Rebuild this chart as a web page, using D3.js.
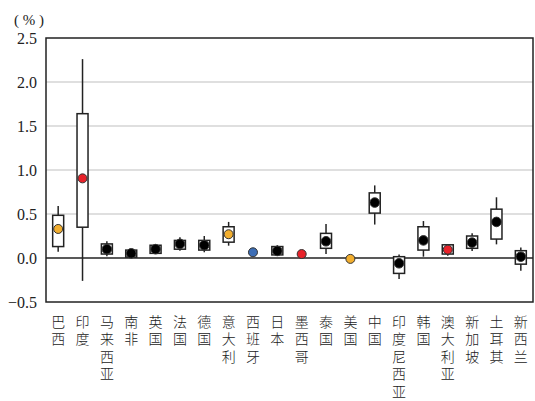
<!DOCTYPE html>
<html>
<head>
<meta charset="utf-8">
<script src="https://cdn.jsdelivr.net/npm/d3@7/dist/d3.min.js"></script>
<style>
  html, body { margin: 0; padding: 0; background: #fff; }
  svg { display: block; }
</style>
</head>
<body>
<svg id="chart" width="535" height="401"></svg>
<script>
// Countries along the x axis
const categories = ["巴西", "印度", "马来西亚", "南非", "英国", "法国", "德国", "意大利", "西班牙", "日本",
  "墨西哥", "泰国", "美国", "中国", "印度尼西亚", "韩国", "澳大利亚", "新加坡", "土耳其", "新西兰"];

// Range statistics (%) for each country; null where no range is drawn
const whiskerLow  = [0.07, -0.26, 0.02, 0.01, 0.05, 0.083, 0.065, 0.14, null, 0.03, null, 0.045, null, 0.38, -0.24, 0.015, 0.025, 0.08, 0.155, -0.145];
const boxLow      = [0.13, 0.35, 0.045, 0.01, 0.053, 0.10, 0.09, 0.18, null, 0.035, null, 0.11, null, 0.51, -0.175, 0.09, 0.045, 0.11, 0.215, -0.07];
const pointValue  = [0.33, 0.905, 0.10, 0.053, 0.10, 0.16, 0.145, 0.27, 0.065, 0.08, 0.045, 0.19, -0.01, 0.63, -0.06, 0.20, 0.095, 0.175, 0.41, 0.015];
const boxHigh     = [0.485, 1.64, 0.16, 0.09, 0.145, 0.20, 0.20, 0.355, null, 0.13, null, 0.28, null, 0.74, 0.015, 0.355, 0.15, 0.25, 0.555, 0.083];
const whiskerHigh = [0.59, 2.26, 0.19, 0.09, 0.16, 0.235, 0.25, 0.41, null, 0.145, null, 0.385, null, 0.825, 0.04, 0.42, 0.15, 0.28, 0.69, 0.12];
// Point group: 0 = standard, 1 = orange, 2 = red, 3 = blue
const pointGroup  = [1, 2, 0, 0, 0, 0, 0, 1, 3, 0, 2, 0, 1, 0, 0, 0, 2, 0, 0, 0];

const yTicks = [-0.5, 0.0, 0.5, 1.0, 1.5, 2.0, 2.5];
const gridValues = [0.5, 1.0, 1.5, 2.0];

const groupColor = d3.scaleOrdinal().domain([0, 1, 2, 3]).range(["#000000", "#F2AE2E", "#E8222A", "#3C6DB5"]);

const svg = d3.select("#chart");
const margin = { left: 46, right: 2, top: 38, bottom: 99 };
const W = 535, H = 401;

const x = d3.scaleBand().domain(categories).range([margin.left, W - margin.right]).padding(0);
const y = d3.scaleLinear().domain([-0.5, 2.5]).range([H - margin.bottom, margin.top]);

const serif = "'Liberation Serif', 'Times New Roman', serif";

// Grid lines
svg.append("g").selectAll("line").data(gridValues).join("line")
  .attr("x1", margin.left).attr("x2", W - margin.right)
  .attr("y1", d => y(d)).attr("y2", d => y(d))
  .attr("stroke", "#d4d4d4").attr("stroke-width", 1.5);

// Y axis labels (no tick marks)
const yAxis = d3.axisLeft(y).tickValues(yTicks).tickSize(0).tickPadding(9)
  .tickFormat(d => d3.format(".1f")(d).replace("-", "−"));
const gy = svg.append("g").attr("transform", `translate(${margin.left},0)`).call(yAxis);
gy.select(".domain").remove();
gy.selectAll("text").attr("font-family", serif).attr("font-size", 16).attr("fill", "#222");

// Unit label
svg.append("text").attr("x", 14).attr("y", 25)
  .attr("font-family", serif).attr("font-size", 15).attr("fill", "#222")
  .attr("xml:space", "preserve")
  .text("( % )");

// Zero line
svg.append("line")
  .attr("x1", margin.left).attr("x2", W - margin.right)
  .attr("y1", y(0)).attr("y2", y(0))
  .attr("stroke", "#222").attr("stroke-width", 1.5);

const items = categories.map((c, i) => ({
  c, wl: whiskerLow[i], bl: boxLow[i], v: pointValue[i], bh: boxHigh[i], wh: whiskerHigh[i], g: pointGroup[i]
}));
const cx = d => x(d.c) + x.bandwidth() / 2;
const boxW = 11;

// Whiskers
svg.append("g").selectAll("line").data(items.filter(d => d.wl !== null)).join("line")
  .attr("x1", cx).attr("x2", cx)
  .attr("y1", d => y(d.wh)).attr("y2", d => y(d.wl))
  .attr("stroke", "#222").attr("stroke-width", 1.5);

// Boxes
svg.append("g").selectAll("rect").data(items.filter(d => d.bl !== null)).join("rect")
  .attr("x", d => cx(d) - boxW / 2).attr("width", boxW)
  .attr("y", d => y(d.bh)).attr("height", d => Math.max(0, y(d.bl) - y(d.bh)))
  .attr("fill", "#fff").attr("stroke", "#222").attr("stroke-width", 1.5);

// Points
svg.append("g").selectAll("circle").data(items).join("circle")
  .attr("cx", cx).attr("cy", d => y(d.v))
  .attr("r", d => d.g === 0 ? 4.8 : 4.5)
  .attr("fill", d => groupColor(d.g))
  .attr("stroke", "#333").attr("stroke-width", 1);

// Plot frame
svg.append("rect")
  .attr("x", margin.left).attr("y", margin.top)
  .attr("width", W - margin.right - margin.left).attr("height", y(-0.5) - margin.top)
  .attr("fill", "none").attr("stroke", "#222").attr("stroke-width", 1.5);

// Vertical category labels, one character per line
const labels = svg.append("g").selectAll("text").data(categories).join("text")
  .attr("font-family", "'Noto Sans CJK SC', sans-serif")
  .attr("font-weight", 300)
  .attr("font-size", 14).attr("fill", "#222")
  .attr("text-anchor", "middle");
labels.each(function (c) {
  const t = d3.select(this);
  Array.from(c).forEach((ch, k) => {
    t.append("tspan")
      .attr("x", x(c) + x.bandwidth() / 2)
      .attr("y", 327 + k * 17.4)
      .text(ch);
  });
});
</script>
</body>
</html>
